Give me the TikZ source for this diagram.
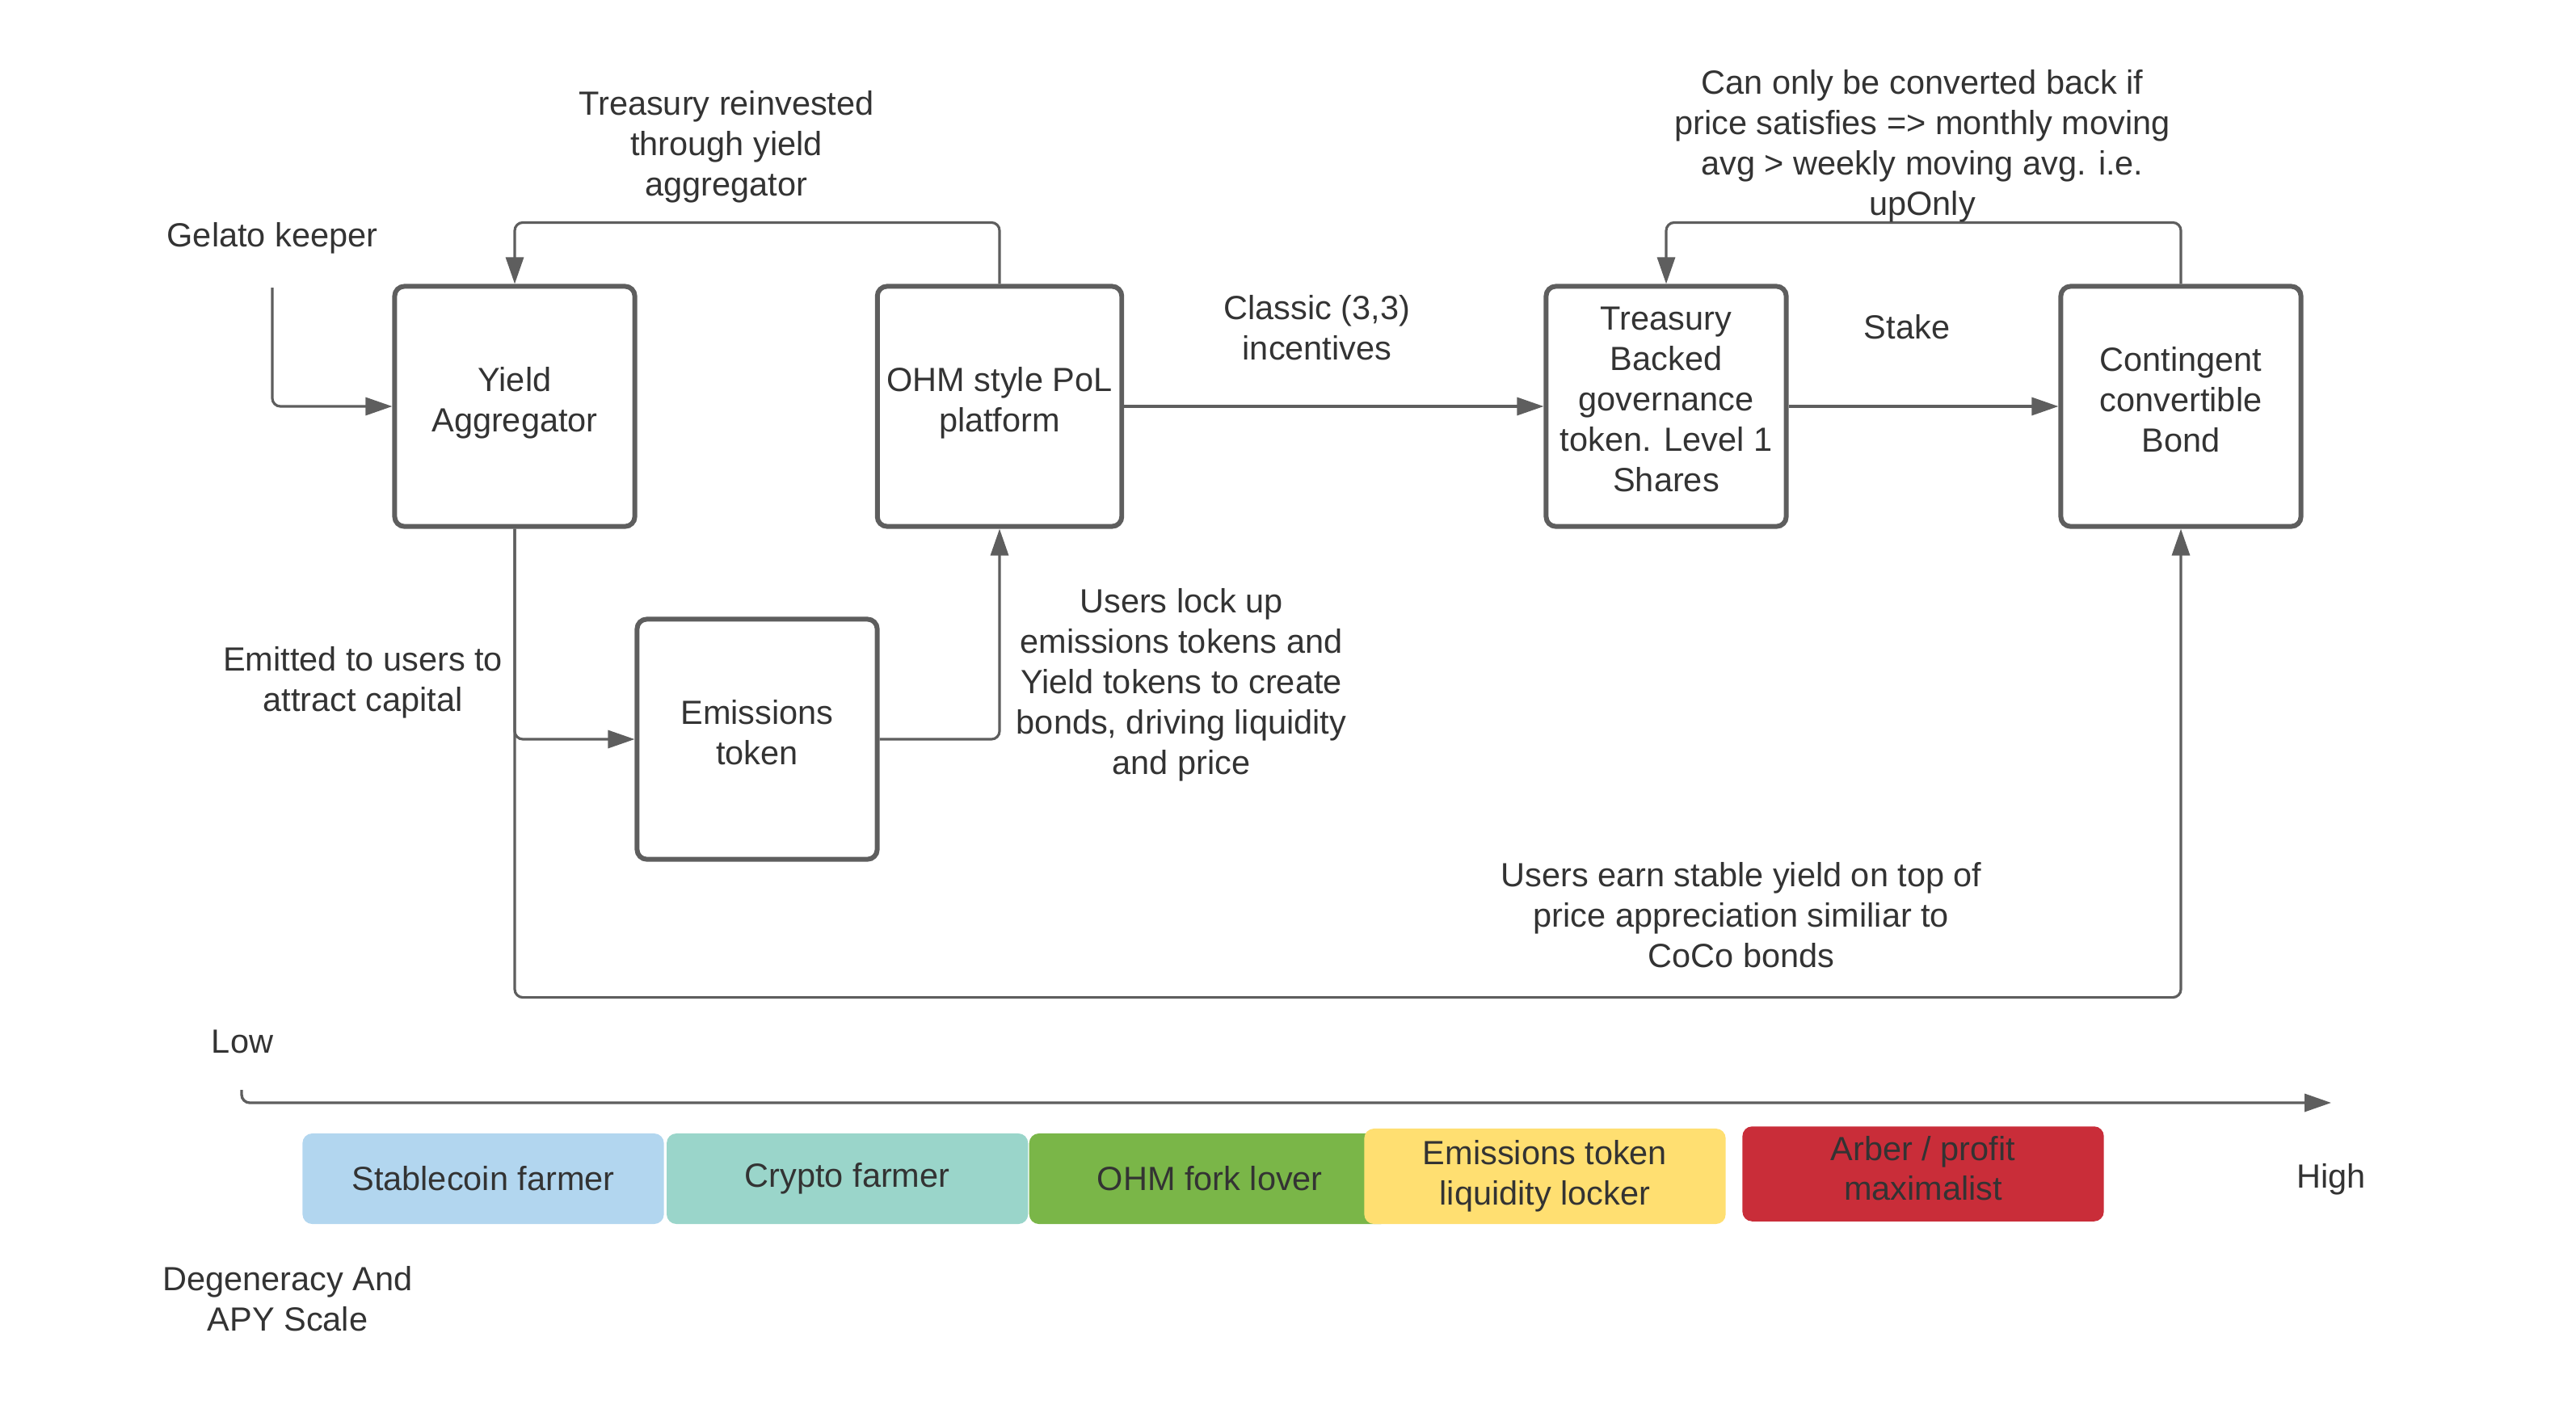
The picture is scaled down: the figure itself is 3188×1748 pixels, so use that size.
\documentclass[tikz,border=0pt]{standalone}
\usepackage{fontspec}
\setmainfont{Liberation Sans}
\usetikzlibrary{arrows.meta,positioning}

\definecolor{linegray}{HTML}{5E5E5E}
\definecolor{txtgray}{HTML}{333333}
\definecolor{stableblue}{HTML}{B2D6EF}
\definecolor{cryptoteal}{HTML}{9AD5CA}
\definecolor{ohmgreen}{HTML}{7AB648}
\definecolor{lockeryellow}{HTML}{FFDF71}
\definecolor{arberred}{HTML}{C92D39}
\newcommand{\lblfont}{\fontsize{11.8}{14.2}\selectfont}

\begin{document}
\begin{tikzpicture}[x=0.01cm, y=-0.01cm,
  box/.style={draw=linegray, line width=1.7pt, rounded corners=0.12cm, minimum width=2.97cm, minimum height=2.97cm, align=center, text=txtgray, font=\lblfont, execute at end node={\rule[-5pt]{0pt}{0pt}}},
  lbl/.style={align=center, text=txtgray, font=\lblfont},
  flow/.style={draw=linegray, line width=0.9pt, rounded corners=0.1cm, -{Triangle[length=0.33cm,width=0.22cm]}},
  axis/.style={draw=linegray, line width=0.95pt, rounded corners=0.1cm, -{Triangle[length=0.33cm,width=0.22cm]}},
  band/.style={rounded corners=0.12cm, minimum width=4.47cm, minimum height=1.12cm, align=center, text=txtgray, font=\lblfont}]
\useasboundingbox (0,0) rectangle (3188,1748);

% main blocks
\node[box] (yield) at (637,503) {Yield\\Aggregator};
\node[box] (ohm) at (1237,503) {OHM style PoL\\platform};
\node[box] (tbg) at (2062,503) {Treasury\\Backed\\governance\\token. Level 1\\Shares};
\node[box] (coco) at (2699,503) {Contingent\\convertible\\Bond};
\node[box] (emis) at (937,915) {Emissions\\token};

% flows
\node[lbl] (gelato) at (337,295) {Gelato keeper};
\coordinate (gk) at (337,356);
\draw[flow] (gk) |- (yield.west);
\draw[flow] (ohm.north) -- ++(0,-76) -| (yield.north);
\draw[flow] (ohm.east) -- (tbg.west);
\draw[flow] (tbg.east) -- (coco.west);
\draw[flow] (coco.north) -- ++(0,-76) -| (tbg.north);
\draw[flow] (yield.south) |- (emis.west);
\draw[flow] (yield.south) -- ++(0,580) -| (coco.south);
\draw[flow] (emis.east) -| (ohm.south);

% notes
\node[lbl] (reinvest) at (899,182) {Treasury reinvested\\through yield\\aggregator};
\node[lbl] (classic) at (1630,406) {Classic (3,3)\\incentives};
\node[lbl] (stake) at (2360,405) {Stake};
\node[lbl] (upnote) at (2379,181) {Can only be converted back if\\price satisfies => monthly moving\\avg > weekly moving avg. i.e.\\upOnly};
\node[lbl] (emitted) at (449,845) {Emitted to users to\\attract capital};
\node[lbl] (lockup) at (1462,848) {Users lock up\\emissions tokens and\\Yield tokens to create\\bonds, driving liquidity\\and price};
\node[lbl] (earn) at (2155,1133) {Users earn stable yield on top of\\price appreciation similiar to\\CoCo bonds};

% scale
\node[lbl] (low) at (300,1289) {Low};
\node[lbl] (high) at (2885,1460) {High};
\coordinate (axstart) at (299,1349);
\coordinate (axend) at (2885,1365);
\draw[axis] (axstart) |- (axend);
\node[lbl] (degen) at (356,1608) {Degeneracy And\\APY Scale};

\node[band, fill=stableblue] (stable) at (598,1459) {Stablecoin farmer};
\node[band, fill=cryptoteal, right=0.02cm of stable] (crypto) {Crypto farmer};
\node[band, fill=ohmgreen, right=0cm of crypto] (forklover) {OHM fork lover};
\node[band, fill=lockeryellow, minimum height=1.18cm] (locker) at (1912,1456) {Emissions token\\liquidity locker};
\node[band, fill=arberred, minimum height=1.16cm] (arber) at (2380,1453) {Arber / profit\\maximalist\rule[-4pt]{0pt}{0pt}};
\end{tikzpicture}
\end{document}
